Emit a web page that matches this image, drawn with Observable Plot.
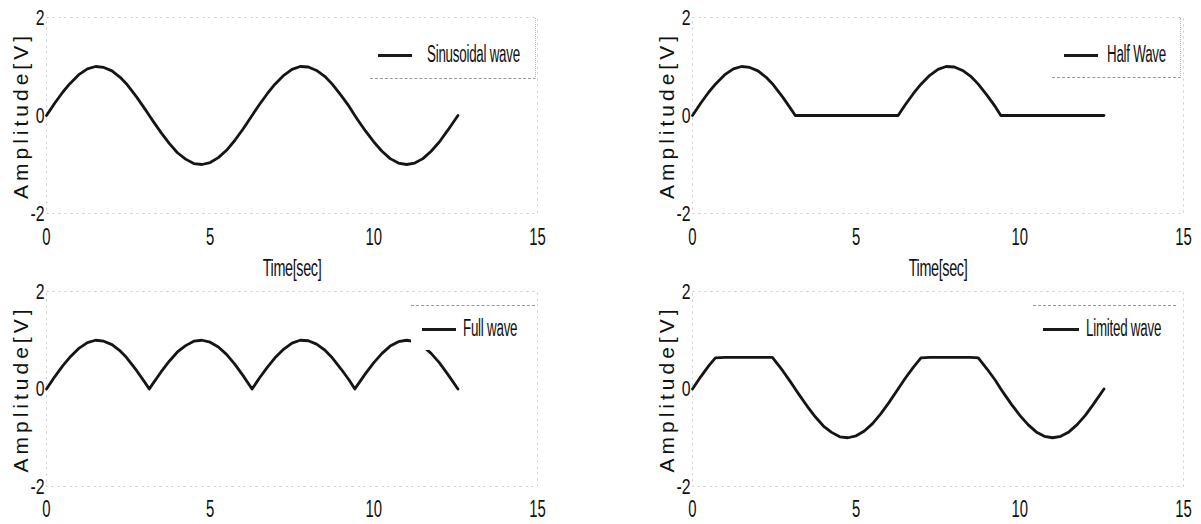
<!DOCTYPE html>
<html><head><meta charset="utf-8">
<script src="https://cdn.jsdelivr.net/npm/d3@7"></script>
<script src="https://cdn.jsdelivr.net/npm/@observablehq/plot@0.6"></script>
<style>
body{margin:0;background:#fff;}
#root{position:relative;width:1201px;height:524px;overflow:hidden;background:#fff;font-family:"Liberation Sans",Arial,sans-serif;}
.panel{position:absolute;}
.legend{position:absolute;background:#fff;box-sizing:border-box;}
.legend .sw{position:absolute;height:3px;background:#1a1a1a;}
.legend .lt{position:absolute;font-size:23px;letter-spacing:-0.4px;color:#111;white-space:nowrap;line-height:23px;transform:scaleX(0.58);transform-origin:0 50%;}
</style></head><body><div id="root"></div>
<script>
// ---- data ----
const time = [0,0.25,0.5,0.7,1.0,1.25,1.5,1.75,2.0,2.25,2.44,2.75,3.0,3.14,3.25,3.5,3.75,4.0,4.25,4.5,4.75,5.0,5.25,5.5,5.75,6.0,6.28,6.5,6.75,6.98,7.25,7.5,7.75,8.0,8.25,8.5,8.73,9.0,9.25,9.42,9.5,9.75,10.0,10.25,10.5,10.75,11.0,11.25,11.5,11.75,12.0,12.25,12.57];
const sinusoidal = [0,0.25,0.48,0.64,0.84,0.95,1.00,0.98,0.91,0.78,0.65,0.38,0.14,0.00,-0.11,-0.35,-0.57,-0.76,-0.89,-0.98,-1.00,-0.96,-0.86,-0.71,-0.51,-0.28,0.00,0.22,0.45,0.64,0.82,0.94,1.00,0.99,0.92,0.80,0.64,0.41,0.18,0.00,-0.08,-0.32,-0.54,-0.73,-0.88,-0.97,-1.00,-0.97,-0.88,-0.73,-0.54,-0.31,0.00];
const halfWave = [0,0.25,0.48,0.64,0.84,0.95,1.00,0.98,0.91,0.78,0.65,0.38,0.14,0,0,0,0,0,0,0,0,0,0,0,0,0,0,0.22,0.45,0.64,0.82,0.94,1.00,0.99,0.92,0.80,0.64,0.41,0.18,0,0,0,0,0,0,0,0,0,0,0,0,0,0];
const fullWave = [0,0.25,0.48,0.64,0.84,0.95,1.00,0.98,0.91,0.78,0.65,0.38,0.14,0.00,0.11,0.35,0.57,0.76,0.89,0.98,1.00,0.96,0.86,0.71,0.51,0.28,0.00,0.22,0.45,0.64,0.82,0.94,1.00,0.99,0.92,0.80,0.64,0.41,0.18,0.00,0.08,0.32,0.54,0.73,0.88,0.97,1.00,0.97,0.88,0.73,0.54,0.31,0.00];
const limitedWave = [0,0.25,0.48,0.64,0.65,0.65,0.65,0.65,0.65,0.65,0.65,0.38,0.14,0.00,-0.11,-0.35,-0.57,-0.76,-0.89,-0.98,-1.00,-0.96,-0.86,-0.71,-0.51,-0.28,0.00,0.22,0.45,0.64,0.65,0.65,0.65,0.65,0.65,0.65,0.64,0.41,0.18,0.00,-0.08,-0.32,-0.54,-0.73,-0.88,-0.97,-1.00,-0.97,-0.88,-0.73,-0.54,-0.31,0.00];
const seriesNames = ["Sinusoidal wave","Half Wave","Full wave","Limited wave"];
const xTicks = [0,5,10,15];
const yTicks = [-2,0,2];
const xLabel = "Time[sec]";
const yLabel = "Amplitude[V]";

// ---- layout ----
const panels = [
  {values: sinusoidal, name: seriesNames[0], left: 0, top: 0, width: 600, height: 262, ml: 46, mr: 63, mt: 17, mb: 49, xpad: 14, xlabel: xLabel,
   lg: {left: 370, top: 18, width: 166, height: 61, cls: "b", swL: 8, swT: 36, swW: 34, txL: 57, txT: 25}},
  {values: halfWave, name: seriesNames[1], left: 600, top: 0, width: 601, height: 262, ml: 92, mr: 18, mt: 17, mb: 49, xpad: 14, xlabel: xLabel,
   lg: {left: 1052, top: 18, width: 129, height: 60, cls: "b", swL: 12, swT: 36, swW: 34, txL: 55, txT: 25}},
  {values: fullWave, name: seriesNames[2], left: 0, top: 262, width: 600, height: 262, ml: 46, mr: 63, mt: 29, mb: 38, xpad: 13, xlabel: null,
   lg: {left: 411, top: 305, width: 124, height: 45, cls: "t", swL: 11, swT: 22, swW: 34, txL: 52, txT: 11}},
  {values: limitedWave, name: seriesNames[3], left: 600, top: 262, width: 601, height: 262, ml: 92, mr: 18, mt: 29, mb: 38, xpad: 13, xlabel: null,
   lg: {left: 1033, top: 305, width: 143, height: 45, cls: "t", swL: 10, swT: 22, swW: 36, txL: 53, txT: 11}}
];

// horizontally condense a text element about its anchor point
function squeeze(el, sx) {
  const tr = el.getAttribute("transform");
  if (tr) {
    el.setAttribute("transform", `${tr} scale(${sx},1)`);
  } else {
    const x = parseFloat(el.getAttribute("x")) || 0;
    el.setAttribute("transform", `translate(${x},0) scale(${sx},1) translate(${-x},0)`);
  }
}

const root = document.getElementById("root");
for (const cfg of panels) {
  const data = time.map((t, i) => ({t, v: cfg.values[i]}));
  const svg = Plot.plot({
    width: cfg.width, height: cfg.height,
    marginLeft: cfg.ml, marginRight: cfg.mr, marginTop: cfg.mt, marginBottom: cfg.mb,
    style: {background: "transparent", fontFamily: '"Liberation Sans",Arial,sans-serif', fontSize: "20px", color: "#111", overflow: "visible"},
    x: {domain: [0, 15], ticks: xTicks, tickSize: 0, tickPadding: cfg.xpad, tickFormat: d => String(d),
        label: cfg.xlabel, labelAnchor: "center", labelOffset: 62, labelArrow: "none"},
    y: {domain: [-2, 2], ticks: yTicks, tickSize: 0, tickPadding: 2, tickFormat: d => String(d),
        label: yLabel, labelAnchor: "center", labelOffset: 33, labelArrow: "none"},
    marks: [
      Plot.frame({stroke: "#999", strokeDasharray: "2,4", strokeOpacity: 0.5}),
      Plot.line(data, {x: "t", y: "v", stroke: "#151515", strokeWidth: 2.8, strokeLinejoin: "round"})
    ]
  });
  svg.querySelectorAll('[aria-label="x-axis tick label"] text').forEach(el => {
    el.style.fontSize = "24px";
    squeeze(el, 0.62);
  });
  svg.querySelectorAll('[aria-label="y-axis tick label"] text').forEach(el => {
    el.style.fontSize = "22px";
    squeeze(el, 0.72);
  });
  svg.querySelectorAll('[aria-label="y-axis label"] text').forEach(el => {
    el.style.fontSize = "21px";
    el.style.letterSpacing = "4px";
  });
  svg.querySelectorAll('[aria-label="x-axis label"] text').forEach(el => {
    el.style.fontSize = "24px";
    el.style.letterSpacing = "-0.6px";
    squeeze(el, 0.6);
  });
  const wrap = document.createElement("div");
  wrap.className = "panel";
  wrap.style.left = cfg.left + "px";
  wrap.style.top = cfg.top + "px";
  wrap.appendChild(svg);
  root.appendChild(wrap);

  const lg = document.createElement("div");
  lg.className = "legend";
  Object.assign(lg.style, {left: cfg.lg.left + "px", top: cfg.lg.top + "px", width: cfg.lg.width + "px", height: cfg.lg.height + "px"});
  if (cfg.lg.cls === "b") { lg.style.borderBottom = "1px dashed #999"; lg.style.borderRight = "1px dotted #bbb"; }
  else { lg.style.borderTop = "1px dashed #999"; }
  const sw = document.createElement("div");
  sw.className = "sw";
  Object.assign(sw.style, {left: cfg.lg.swL + "px", top: cfg.lg.swT + "px", width: cfg.lg.swW + "px"});
  const tx = document.createElement("div");
  tx.className = "lt";
  tx.textContent = cfg.name;
  Object.assign(tx.style, {left: cfg.lg.txL + "px", top: cfg.lg.txT + "px"});
  lg.appendChild(sw); lg.appendChild(tx);
  root.appendChild(lg);
}
</script></body></html>
